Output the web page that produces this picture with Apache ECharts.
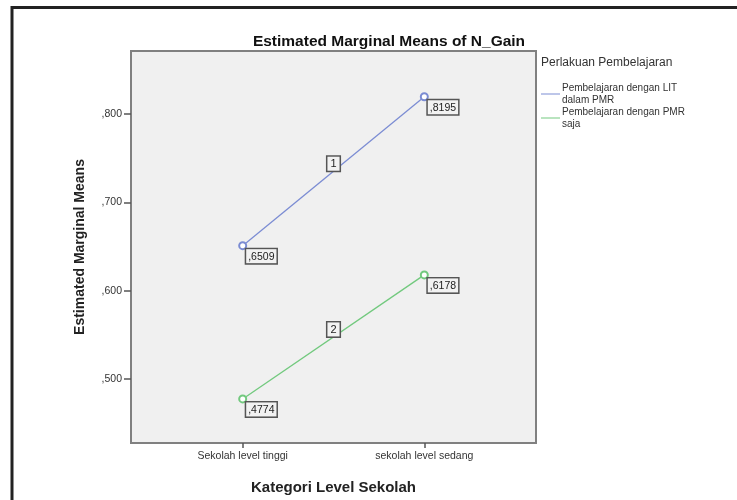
<!DOCTYPE html>
<html>
<head>
<meta charset="utf-8">
<script src="https://cdn.jsdelivr.net/npm/echarts@6/dist/echarts.min.js"></script>
<style>
  html, body { margin: 0; padding: 0; background: #fff; }
  #chart { width: 737px; height: 500px; }
</style>
</head>
<body>
<div id="chart"></div>
<script>
const categories = ['Sekolah level tinggi', 'sekolah level sedang'];
const seriesNames = ['Pembelajaran dengan LIT\ndalam PMR', 'Pembelajaran dengan PMR\nsaja'];
const litPmr = [0.6509, 0.8195];
const pmrOnly = [0.4774, 0.6178];
const lineTags = ['1', '2'];
const yTicks = [0.5, 0.6, 0.7, 0.8];
const colors = ['#7b8cd3', '#72c97e'];

const font = '"Liberation Sans", Arial, sans-serif';

const boxStyle = {
  color: '#222',
  fontFamily: font,
  backgroundColor: '#f2f2f2',
  borderColor: '#555',
  borderWidth: 1.5
};

const makeSeries = (name, values, tag, color) => {
  const points = values.map((v, i) => [i, v]);
  const midX = (points[0][0] + points[1][0]) / 2;
  const midY = (values[0] + values[1]) / 2;
  return {
    name: name,
    type: 'line',
    data: points,
    symbol: 'emptyCircle',
    symbolSize: 7,
    lineStyle: { color: color, width: 1.3 },
    itemStyle: { color: color, borderWidth: 1.2 },
    label: Object.assign({
      show: true,
      position: [8, 8],
      fontSize: 10.5,
      padding: [2, 2, 1, 2],
      formatter: p => p.value[1].toFixed(4).replace('0.', ',')
    }, boxStyle),
    markPoint: {
      symbol: 'circle',
      symbolSize: 1,
      itemStyle: { color: 'rgba(0,0,0,0)' },
      label: Object.assign({
        show: true,
        position: 'top',
        distance: 0,
        formatter: tag,
        fontSize: 11,
        padding: [2, 3, 1, 3]
      }, boxStyle),
      data: [{ coord: [midX, midY] }]
    }
  };
};

const options = {
  animation: false,
  color: colors,
  title: {
    text: 'Estimated Marginal Means of N_Gain',
    left: 384,
    top: 29,
    textAlign: 'center',
    textStyle: { fontFamily: font, fontSize: 15.5, fontWeight: 'bold', color: '#111' }
  },
  graphic: [{
    type: 'polyline',
    shape: { points: [[12, 500], [12, 7.5], [737, 7.5]] },
    style: { stroke: '#222', lineWidth: 3, fill: null }
  }, {
    type: 'text',
    left: 541,
    top: 57,
    style: { text: 'Perlakuan Pembelajaran', fontFamily: font, fontSize: 12, fill: '#333' }
  }],
  legend: {
    orient: 'vertical',
    left: 536,
    top: 77,
    itemWidth: 19,
    itemHeight: 1,
    itemGap: 0,
    icon: 'rect',
    textStyle: { fontFamily: font, fontSize: 10, color: '#333', lineHeight: 12, padding: [0, 0, 0, -3] },
    data: seriesNames
  },
  grid: {
    left: 131,
    top: 51,
    right: 201,
    bottom: 57,
    show: true,
    backgroundColor: '#f0f0f0',
    borderColor: '#808080',
    borderWidth: 2
  },
  xAxis: {
    type: 'value',
    min: -0.615,
    max: 1.615,
    name: 'Kategori Level Sekolah',
    nameLocation: 'middle',
    nameGap: 37,
    nameTextStyle: { fontFamily: font, fontSize: 15, fontWeight: 'bold', color: '#222' },
    splitLine: { show: false },
    axisLine: { show: true, onZero: false, lineStyle: { color: '#808080', width: 2 } },
    axisTick: { show: true, customValues: [0, 1], length: 5, lineStyle: { color: '#555', width: 1.5 } },
    axisLabel: {
      customValues: [0, 1],
      formatter: v => categories[Math.round(v)],
      fontFamily: font,
      fontSize: 10.5,
      color: '#333',
      margin: 8
    }
  },
  yAxis: {
    type: 'value',
    min: 0.4275,
    max: 0.8713,
    name: 'Estimated Marginal Means',
    nameLocation: 'middle',
    nameGap: 44,
    nameTextStyle: { fontFamily: font, fontSize: 14, fontWeight: 'bold', color: '#222' },
    splitLine: { show: false },
    axisLine: { show: true, onZero: false, lineStyle: { color: '#808080', width: 2 } },
    axisTick: { show: true, customValues: yTicks, length: 7, lineStyle: { color: '#555', width: 1.5 } },
    axisLabel: {
      customValues: yTicks,
      formatter: v => v.toFixed(3).replace('0.', ','),
      fontFamily: font,
      fontSize: 10.5,
      color: '#333',
      margin: 9
    }
  },
  series: [
    makeSeries(seriesNames[0], litPmr, lineTags[0], colors[0]),
    makeSeries(seriesNames[1], pmrOnly, lineTags[1], colors[1])
  ]
};

const myChart = echarts.init(document.getElementById('chart'));
myChart.setOption(options);
</script>
</body>
</html>
